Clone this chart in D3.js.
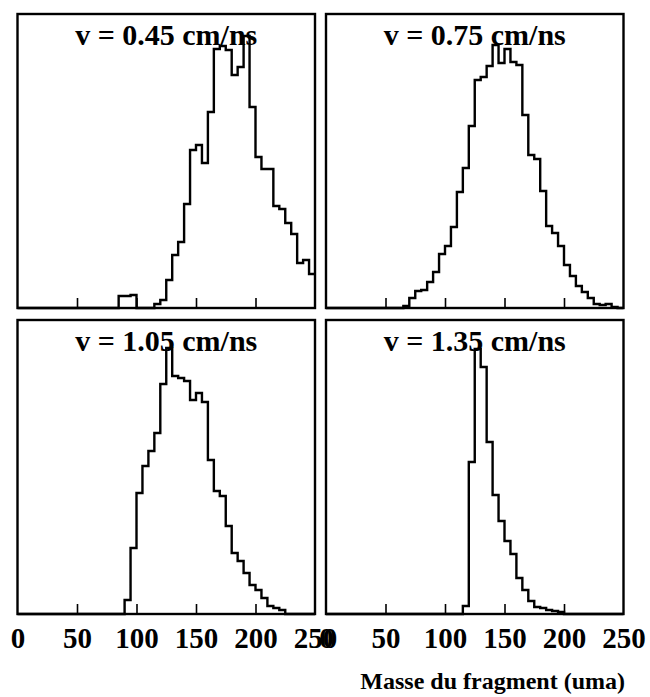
<!DOCTYPE html>
<html>
<head>
<meta charset="utf-8">
<script src="https://cdn.jsdelivr.net/npm/d3@7"></script>
<style>
  body { margin: 0; background: #fff; }
  text { font-family: "Liberation Serif", "Times New Roman", serif; font-weight: bold; fill: #000; }
</style>
</head>
<body>
<div id="chart"></div>
<script>

var width = 650;
var height = 697;

// bin width 5 uma, 50 bins from 0 to 250
var binWidth = 5;
var binStarts = d3.range(0, 250, binWidth);

// counts (arbitrary units)
var counts045 = [0,0,0,0,0,0,0,0,0,0,0,0,0,0,0,0,0,
  12,12,13,0,0,0,4,8,28,53,66,104,158,163,145,196,259,262,258,233,241,272,
  201,151,139,139,102,99,85,74,45,48,34];
var counts075 = [0,0,0,0,0,0,0,0,0,0,0,0,0,
  2,10,17,18,26,36,54,62,81,116,140,182,228,231,242,263,245,259,246,243,
  193,153,149,117,82,75,62,43,32,22,16,10,4,3,4,1,0];
var counts105 = [0,0,0,0,0,0,0,0,0,0,0,0,0,0,0,0,0,0,
  14,66,121,148,163,181,230,266,238,236,233,214,221,212,154,123,118,88,61,
  53,41,29,24,16,8,6,4,0,0,0,0,0];
var counts135 = [0,0,0,0,0,0,0,0,0,0,0,0,0,0,0,0,0,0,0,0,0,0,0,
  8,152,265,247,172,119,93,73,60,36,24,13,7,6,4,3,2,
  0,0,0,0,0,0,0,0,0,0];

var titles = ["v = 0.45 cm/ns", "v = 0.75 cm/ns", "v = 1.05 cm/ns", "v = 1.35 cm/ns"];
var series = [counts045, counts075, counts105, counts135];
var tickVals = [50, 100, 150, 200];
var labelVals = [0, 50, 100, 150, 200, 250];
var xTitle = "Masse du fragment (uma)";

var cols = [[17.5, 315], [326, 623.5]];
var rows = [[14, 308], [320, 614]];

var svg = d3.select("#chart")
  .append("svg")
  .attr("width", width)
  .attr("height", height);

series.forEach(function(counts, i) {
  var col = cols[i % 2], row = rows[Math.floor(i / 2)];
  var x = d3.scaleLinear().domain([0, 250]).range(col);
  var y = d3.scaleLinear().domain([0, 294]).range([row[1], row[0]]);

  var g = svg.append("g");

  // histogram outline
  var pts = binStarts.map(function(b, k) { return [b, counts[k]]; });
  pts.unshift([0, 0]);
  pts.push([250, counts[counts.length - 1]]);
  var line = d3.line()
    .x(function(d) { return x(d[0]); })
    .y(function(d) { return y(d[1]); })
    .curve(d3.curveStepAfter);
  g.append("path")
    .datum(pts)
    .attr("d", line)
    .attr("fill", "none")
    .attr("stroke", "#000")
    .attr("stroke-width", 2.4);

  // inward ticks on the bottom edge
  g.append("g")
    .attr("transform", "translate(0," + row[1] + ")")
    .call(d3.axisBottom(x).tickValues(tickVals).tickSizeInner(-10).tickSizeOuter(0).tickFormat(""))
    .call(function(a) { a.select(".domain").remove(); })
    .selectAll("line")
    .attr("stroke", "#000")
    .attr("stroke-width", 1.6);

  // frame
  g.append("rect")
    .attr("x", col[0])
    .attr("y", row[0])
    .attr("width", col[1] - col[0])
    .attr("height", row[1] - row[0])
    .attr("fill", "none")
    .attr("stroke", "#000")
    .attr("stroke-width", 2.4);

  g.append("text")
    .attr("x", (col[0] + col[1]) / 2)
    .attr("y", row[0] + 31)
    .attr("text-anchor", "middle")
    .style("font-size", "30px")
    .text(titles[i]);

  if (i >= 2) {
    var lab = g.append("g")
      .attr("transform", "translate(0," + row[1] + ")")
      .call(d3.axisBottom(x).tickValues(labelVals).tickSize(0).tickFormat(d3.format("d")));
    lab.select(".domain").remove();
    lab.selectAll("text")
      .attr("y", 0)
      .attr("dy", 0)
      .attr("fill", "#000")
      .attr("transform", "translate(0,34)")
      .style("font-size", "29px")
      .style("font-family", "'Liberation Serif', serif")
      .style("font-weight", "bold");
  }
});

svg.append("text")
  .attr("x", 625)
  .attr("y", 689)
  .attr("text-anchor", "end")
  .style("font-size", "24px")
  .text(xTitle);

</script>
</body>
</html>
